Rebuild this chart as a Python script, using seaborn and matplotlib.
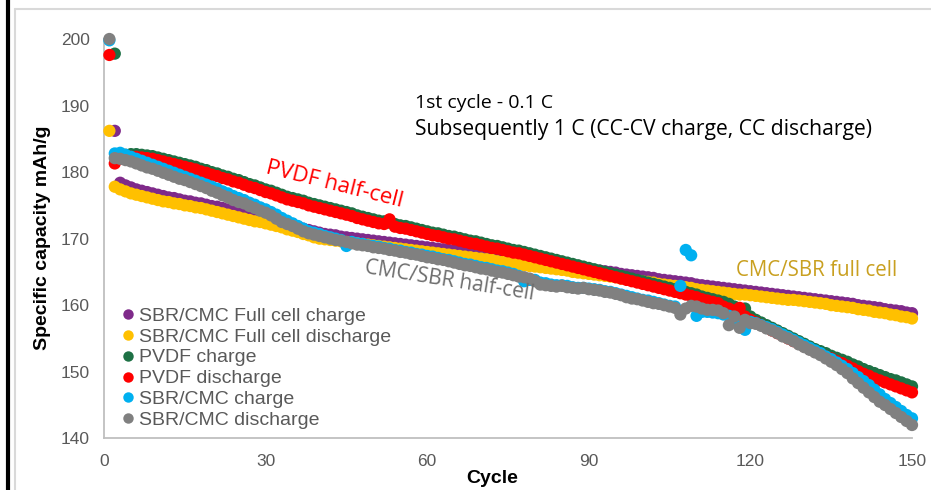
import numpy as np
import pandas as pd
import matplotlib
matplotlib.use("Agg")
import matplotlib.pyplot as plt
from matplotlib.lines import Line2D
from matplotlib.ticker import MultipleLocator
import seaborn as sns

# ---------------- data ----------------
series_names = [
    "SBR/CMC Full cell charge",
    "SBR/CMC Full cell discharge",
    "PVDF charge",
    "PVDF discharge",
    "SBR/CMC charge",
    "SBR/CMC discharge",
]
series_colors = ["#7F2A8A", "#FFC000", "#1E7145", "#FF0000", "#00B0F0", "#808080"]

cycles_full = list(range(1, 151))      # discharge series & SBR/CMC charge
cycles_late = list(range(2, 151))      # full-cell charge & PVDF charge

full_charge = [
    186.2, 178.4, 178.0, 177.7, 177.4, 177.2, 177.0, 176.8, 176.6,
    176.4, 176.2, 176.1, 175.9, 175.7, 175.6, 175.4, 175.3, 175.1, 174.9,
    174.8, 174.6, 174.4, 174.2, 174.0, 173.8, 173.6, 173.4, 173.2, 173.0,
    172.8, 172.6, 172.4, 172.2, 172.0, 171.8, 171.5, 171.3, 171.1, 170.9,
    170.7, 170.6, 170.5, 170.3, 170.2, 170.1, 170.0, 169.9, 169.8, 169.7,
    169.6, 169.5, 169.4, 169.3, 169.2, 169.1, 169.0, 168.9, 168.8, 168.7,
    168.6, 168.5, 168.4, 168.3, 168.2, 168.1, 168.0, 167.9, 167.8, 167.7,
    167.6, 167.5, 167.3, 167.2, 167.1, 167.0, 166.9, 166.7, 166.6, 166.5,
    166.4, 166.3, 166.2, 166.1, 166.0, 165.9, 165.7, 165.6, 165.5, 165.4,
    165.3, 165.2, 165.1, 165.0, 164.9, 164.7, 164.6, 164.5, 164.4, 164.3,
    164.2, 164.1, 163.9, 163.8, 163.7, 163.6, 163.5, 163.4, 163.3, 163.1,
    163.0, 162.9, 162.8, 162.7, 162.6, 162.5, 162.4, 162.3, 162.2, 162.1,
    162.0, 161.9, 161.8, 161.7, 161.6, 161.5, 161.4, 161.3, 161.2, 161.1,
    161.0, 160.9, 160.8, 160.7, 160.6, 160.5, 160.4, 160.3, 160.2, 160.0,
    159.9, 159.8, 159.7, 159.6, 159.4, 159.3, 159.2, 159.1, 158.9, 158.8,
]

full_discharge = [
    186.2, 177.8, 177.4, 177.1, 176.8, 176.6, 176.4, 176.2, 176.0, 175.8,
    175.6, 175.5, 175.3, 175.2, 175.0, 174.9, 174.7, 174.6, 174.4, 174.2,
    174.0, 173.8, 173.6, 173.4, 173.2, 173.0, 172.8, 172.6, 172.5, 172.3,
    172.1, 171.9, 171.7, 171.4, 171.2, 171.0, 170.7, 170.5, 170.2, 170.0,
    169.9, 169.8, 169.7, 169.6, 169.5, 169.4, 169.3, 169.2, 169.1, 169.0,
    168.9, 168.8, 168.7, 168.6, 168.5, 168.4, 168.3, 168.2, 168.1, 168.0,
    167.9, 167.8, 167.7, 167.6, 167.5, 167.4, 167.3, 167.2, 167.1, 167.0,
    166.9, 166.8, 166.6, 166.5, 166.4, 166.3, 166.2, 166.0, 165.9, 165.8,
    165.7, 165.6, 165.5, 165.4, 165.3, 165.2, 165.0, 164.9, 164.8, 164.7,
    164.6, 164.5, 164.4, 164.3, 164.2, 164.0, 163.9, 163.8, 163.7, 163.6,
    163.5, 163.4, 163.2, 163.1, 163.0, 162.9, 162.8, 162.7, 162.6, 162.4,
    162.3, 162.2, 162.1, 162.0, 161.9, 161.8, 161.7, 161.6, 161.6, 161.5,
    161.4, 161.3, 161.2, 161.1, 161.0, 160.9, 160.8, 160.8, 160.7, 160.6,
    160.5, 160.4, 160.3, 160.2, 160.0, 159.9, 159.8, 159.7, 159.6, 159.4,
    159.3, 159.2, 159.0, 158.9, 158.8, 158.6, 158.5, 158.3, 158.2, 158.0,
]

pvdf_charge = [
    197.8, 182.5, 182.6, 182.7, 182.7, 182.6, 182.5, 182.4, 182.2,
    182.0, 181.8, 181.6, 181.4, 181.2, 181.0, 180.8, 180.5, 180.3, 180.0,
    179.8, 179.5, 179.3, 179.0, 178.8, 178.5, 178.2, 178.0, 177.7, 177.4,
    177.2, 176.9, 176.6, 176.3, 176.1, 175.9, 175.7, 175.4, 175.2, 175.0,
    174.8, 174.6, 174.4, 174.2, 174.0, 173.8, 173.5, 173.3, 173.1, 172.9,
    172.7, 172.6, 172.4, 172.2, 172.0, 171.9, 171.7, 171.5, 171.3, 171.1,
    170.9, 170.8, 170.6, 170.4, 170.3, 170.1, 169.9, 169.7, 169.6, 169.4,
    169.2, 169.0, 168.9, 168.7, 168.5, 168.3, 168.2, 168.0, 167.8, 167.6,
    167.4, 167.2, 167.0, 166.8, 166.6, 166.4, 166.2, 166.0, 165.8, 165.6,
    165.4, 165.2, 165.0, 164.8, 164.6, 164.4, 164.2, 164.0, 163.8, 163.6,
    163.4, 163.2, 163.0, 162.8, 162.6, 162.4, 162.2, 162.0, 161.8, 161.6,
    161.3, 161.1, 160.9, 160.7, 160.5, 160.2, 159.8, 159.2, 159.5, 158.3,
    157.8, 157.4, 157.0, 156.6, 156.2, 155.8, 155.4, 155.0, 154.6, 154.2,
    153.8, 153.4, 153.1, 152.8, 152.4, 152.1, 151.8, 151.5, 151.1, 150.8,
    150.4, 150.1, 149.8, 149.5, 149.2, 148.9, 148.7, 148.4, 148.1, 147.8,
]

pvdf_discharge = [
    197.6, 181.3, 182.0, 182.2, 182.3, 182.3, 182.2, 182.1, 182.0, 181.8,
    181.6, 181.4, 181.2, 181.0, 180.8, 180.6, 180.4, 180.1, 179.9, 179.6,
    179.4, 179.1, 178.9, 178.6, 178.4, 178.1, 177.8, 177.6, 177.3, 177.0,
    176.8, 176.5, 176.2, 175.9, 175.7, 175.5, 175.3, 175.0, 174.8, 174.6,
    174.4, 174.2, 174.0, 173.8, 173.6, 173.4, 173.1, 172.9, 172.7, 172.5,
    172.3, 172.2, 172.9, 171.8, 171.6, 171.5, 171.3, 171.1, 170.9, 170.7,
    170.5, 170.4, 170.2, 170.0, 169.9, 169.7, 169.5, 169.3, 169.2, 169.0,
    168.8, 168.6, 168.5, 168.3, 168.1, 167.9, 167.8, 167.6, 167.4, 167.2,
    167.0, 166.8, 166.6, 166.4, 166.2, 166.0, 165.8, 165.6, 165.4, 165.2,
    165.0, 164.8, 164.6, 164.4, 164.2, 164.0, 163.8, 163.6, 163.4, 163.2,
    163.0, 162.8, 162.6, 162.4, 162.2, 162.0, 161.8, 161.6, 161.4, 161.2,
    160.9, 160.7, 160.5, 160.3, 159.8, 159.5, 159.2, 159.6, 158.3, 157.8,
    157.4, 157.0, 156.6, 156.2, 155.8, 155.4, 155.0, 154.6, 154.2, 153.8,
    153.4, 153.0, 152.7, 152.3, 152.0, 151.6, 151.3, 150.9, 150.5, 150.1,
    149.7, 149.4, 149.0, 148.7, 148.4, 148.1, 147.8, 147.5, 147.2, 146.9,
]

sbr_charge = [
    199.8, 182.8, 182.9, 182.6, 182.3, 182.0, 181.7, 181.4, 181.1, 180.8,
    180.5, 180.2, 179.9, 179.6, 179.3, 179.0, 178.7, 178.4, 178.1, 177.8,
    177.5, 177.1, 176.8, 176.4, 176.1, 175.8, 175.4, 175.1, 174.7, 174.4,
    174.0, 173.6, 173.1, 172.7, 172.3, 171.9, 171.5, 171.1, 170.9, 170.7,
    170.4, 170.2, 170.0, 169.8, 168.9, 169.5, 169.3, 169.2, 169.0, 168.9,
    168.8, 168.6, 168.5, 168.3, 168.2, 168.0, 167.9, 167.7, 167.6, 167.4,
    167.3, 167.1, 166.9, 166.8, 166.6, 166.4, 166.2, 166.1, 165.9, 165.7,
    165.6, 165.4, 165.2, 165.1, 164.9, 164.7, 164.4, 163.6, 163.8, 163.8,
    163.4, 163.3, 163.1, 163.0, 163.0, 162.9, 162.7, 162.6, 162.6, 162.5,
    162.4, 162.3, 162.1, 162.0, 161.8, 161.6, 161.4, 161.2, 161.0, 160.8,
    160.7, 160.5, 160.3, 160.1, 159.9, 159.8, 162.9, 168.3, 167.5, 158.4,
    159.0, 159.0, 158.9, 158.8, 158.6, 158.4, 158.2, 157.5, 156.3, 157.5,
    157.3, 157.0, 156.7, 156.4, 156.0, 155.6, 155.2, 154.8, 154.4, 154.0,
    153.6, 153.2, 152.8, 152.3, 151.9, 151.4, 150.9, 150.4, 149.8, 149.2,
    148.6, 148.0, 147.3, 146.6, 145.9, 145.3, 144.7, 144.1, 143.5, 143.0,
]

sbr_discharge = [
    200.0, 182.1, 182.0, 181.8, 181.6, 181.3, 181.0, 180.7, 180.5, 180.2,
    179.9, 179.6, 179.3, 179.0, 178.8, 178.5, 178.2, 177.9, 177.6, 177.2,
    176.9, 176.5, 176.2, 175.8, 175.5, 175.3, 174.9, 174.6, 174.2, 173.9,
    173.5, 173.0, 172.5, 172.2, 171.9, 171.5, 171.1, 170.8, 170.6, 170.4,
    170.2, 170.0, 169.8, 169.7, 169.5, 169.3, 169.1, 169.0, 168.9, 168.7,
    168.6, 168.5, 168.3, 168.2, 168.0, 167.9, 167.7, 167.6, 167.4, 167.2,
    167.1, 166.9, 166.8, 166.6, 166.4, 166.2, 166.0, 165.9, 165.7, 165.5,
    165.4, 165.2, 165.0, 164.9, 164.7, 164.5, 164.3, 164.2, 164.0, 163.6,
    163.1, 163.0, 162.9, 162.8, 162.9, 162.7, 162.6, 162.5, 162.6, 162.4,
    162.3, 162.2, 162.0, 161.9, 161.7, 161.5, 161.2, 161.0, 160.9, 160.7,
    160.5, 160.3, 160.2, 160.0, 159.8, 159.6, 158.6, 159.5, 159.9, 159.8,
    159.5, 159.3, 159.3, 159.2, 158.8, 157.0, 158.3, 156.6, 157.8, 157.3,
    157.2, 156.9, 156.5, 156.2, 155.8, 155.3, 155.0, 154.6, 154.1, 153.7,
    153.3, 152.9, 152.5, 152.0, 151.5, 151.0, 150.4, 149.8, 149.0, 148.3,
    147.6, 146.9, 146.2, 145.5, 145.0, 144.4, 143.8, 143.2, 142.6, 142.0,
]

x_ticks = [0, 30, 60, 90, 120, 150]
y_ticks = [140, 150, 160, 170, 180, 190, 200]

# ---------------- build long table (series order = drawing order) ----------------
series_x = [cycles_late, cycles_full, cycles_late, cycles_full, cycles_full, cycles_full]
series_y = [full_charge, full_discharge, pvdf_charge, pvdf_discharge, sbr_charge, sbr_discharge]
frames = []
for name, xs, ys in zip(series_names, series_x, series_y):
    frames.append(pd.DataFrame({"Cycle": xs, "Capacity": ys, "Series": name}))
df = pd.concat(frames, ignore_index=True)

# ---------------- plotting ----------------
sns.set_style("white")
plt.rcParams["font.family"] = ["Liberation Sans", "DejaVu Sans"]

fig = plt.figure(figsize=(9.31, 4.90), dpi=100)
ax = fig.add_axes([104 / 931, 1 - 438.3 / 490, (912 - 104) / 931, (438.3 - 39) / 490])

sns.scatterplot(data=df, x="Cycle", y="Capacity", hue="Series",
                hue_order=series_names, palette=series_colors,
                s=78, linewidth=0, alpha=1, ax=ax, legend=True)
for coll in ax.collections:
    coll.set_clip_on(False)

ax.set_xlim(0, 150)
ax.set_ylim(140, 200)
ax.set_xticks(x_ticks)
ax.set_yticks(y_ticks)
ax.xaxis.set_minor_locator(MultipleLocator(6))
ax.yaxis.set_minor_locator(MultipleLocator(2))

axis_col = "#BFBFBF"
for side in ["top", "right"]:
    ax.spines[side].set_visible(False)
for side in ["left", "bottom"]:
    ax.spines[side].set_color(axis_col)
    ax.spines[side].set_linewidth(1.3)
    ax.spines[side].set_zorder(0)
ax.tick_params(axis="both", which="both", direction="in", color=axis_col,
               width=1.0, labelcolor="#595959", labelsize=12.5)
ax.tick_params(axis="both", which="major", length=5)
ax.tick_params(axis="both", which="minor", length=4)
ax.tick_params(axis="x", which="major", pad=11)
ax.tick_params(axis="y", which="major", pad=10)

ax.set_xlabel("")
ax.set_ylabel("")
fig.text(492 / 931, 1 - 478 / 490, "Cycle", fontsize=14, fontweight="bold",
         ha="center", va="center", color="black")
fig.text(43 / 931, 1 - 238 / 490, "Specific capacity mAh/g", fontsize=14,
         fontweight="bold", rotation=90, ha="center", va="center", color="black")

# legend
handles, labels = ax.get_legend_handles_labels()
leg = ax.legend(handles, labels, loc="upper left",
                bbox_to_anchor=(118 / 931, 1 - 307 / 490), bbox_transform=fig.transFigure,
                frameon=False, fontsize=14, handletextpad=0.1, labelspacing=0.17,
                borderaxespad=0, borderpad=0, handlelength=1.0, markerscale=0.85)
for t in leg.get_texts():
    t.set_color("#595959")

# annotations
ann_font = ["Open Sans", "DejaVu Sans"]
fig.text(415 / 931, 1 - 103 / 490, "1st cycle - 0.1 C", fontsize=14,
         family=ann_font, ha="left", va="center", color="black")
fig.text(415 / 931, 1 - 129 / 490, "Subsequently 1 C (CC-CV charge, CC discharge)",
         fontsize=15.2, family=ann_font, ha="left", va="center", color="black")
fig.text(334 / 931, 1 - 185 / 490, "PVDF half-cell", fontsize=16, family=ann_font,
         rotation=-14, rotation_mode="anchor", ha="center", va="center", color="#FF0000")
fig.text(449 / 931, 1 - 281 / 490, "CMC/SBR half-cell", fontsize=15, family=ann_font,
         rotation=-9, rotation_mode="anchor", ha="center", va="center", color="#6E6E6E")
fig.text(736 / 931, 1 - 270 / 490, "CMC/SBR full cell", fontsize=14.8, family=ann_font,
         ha="left", va="center", color="#C9A020")

# outer frame lines
fig.add_artist(Line2D([8 / 931, 8 / 931], [0, 1], transform=fig.transFigure,
                      color="black", linewidth=3))
fig.add_artist(Line2D([15 / 931, 15 / 931], [0, 1 - 9 / 490], transform=fig.transFigure,
                      color="#D9D9D9", linewidth=1.5))
fig.add_artist(Line2D([15 / 931, 1], [1 - 9 / 490, 1 - 9 / 490], transform=fig.transFigure,
                      color="#D9D9D9", linewidth=1.5))

fig.savefig("out.png", dpi=100, facecolor="white")
